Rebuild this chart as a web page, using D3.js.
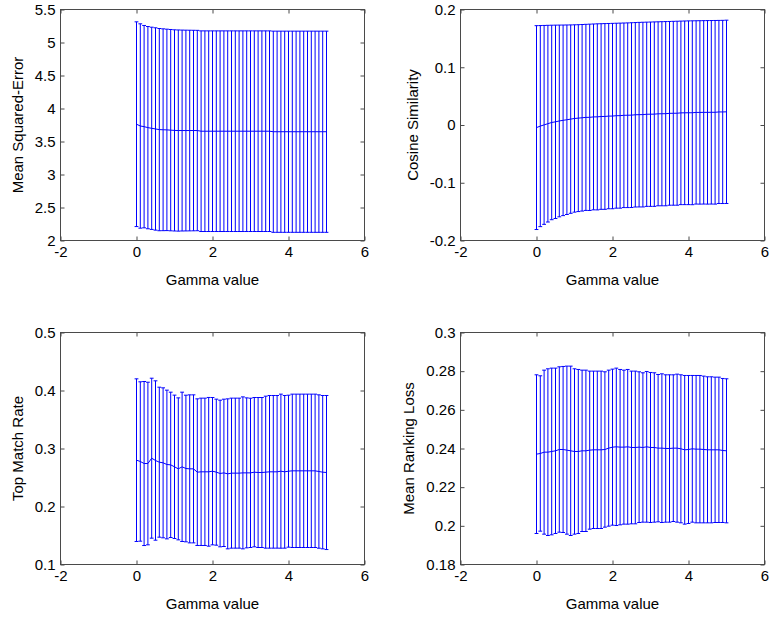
<!DOCTYPE html>
<html>
<head>
<meta charset="utf-8">
<script src="https://cdn.jsdelivr.net/npm/d3@7"></script>
<style>
  html, body { margin: 0; padding: 0; background: #fff; }
  svg { display: block; }
  text { font-family: "Liberation Sans", Arial, Helvetica, sans-serif; fill: #000; }
</style>
</head>
<body>
<svg id="chart" width="770" height="617"></svg>
<script>
// Gamma values on the x axis
const gamma = [0.0, 0.1, 0.2, 0.3, 0.4, 0.5, 0.6, 0.7, 0.8, 0.9,
  1.0, 1.1, 1.2, 1.3, 1.4, 1.5, 1.6, 1.7, 1.8, 1.9,
  2.0, 2.1, 2.2, 2.3, 2.4, 2.5, 2.6, 2.7, 2.8, 2.9,
  3.0, 3.1, 3.2, 3.3, 3.4, 3.5, 3.6, 3.7, 3.8, 3.9,
  4.0, 4.1, 4.2, 4.3, 4.4, 4.5, 4.6, 4.7, 4.8, 4.9, 5.0];

// Mean squared error: mean and half-width of the error bar
const mseMean = [3.762, 3.735, 3.725, 3.710, 3.700, 3.690, 3.680, 3.678, 3.676, 3.672,
  3.668, 3.666, 3.666, 3.666, 3.666, 3.666, 3.666, 3.656, 3.656, 3.656,
  3.656, 3.656, 3.656, 3.656, 3.656, 3.656, 3.656, 3.656, 3.656, 3.656,
  3.656, 3.656, 3.656, 3.656, 3.656, 3.656, 3.648, 3.648, 3.648, 3.648,
  3.648, 3.648, 3.648, 3.648, 3.648, 3.648, 3.648, 3.648, 3.648, 3.648, 3.648];
const mseErr = [1.551, 1.548, 1.533, 1.532, 1.532, 1.533, 1.532, 1.529, 1.526, 1.525,
  1.524, 1.524, 1.522, 1.521, 1.520, 1.519, 1.518, 1.520, 1.520, 1.520,
  1.520, 1.520, 1.520, 1.520, 1.520, 1.520, 1.520, 1.520, 1.520, 1.520,
  1.520, 1.520, 1.520, 1.520, 1.520, 1.520, 1.524, 1.524, 1.524, 1.524,
  1.524, 1.524, 1.524, 1.524, 1.524, 1.524, 1.524, 1.524, 1.524, 1.524, 1.524];

// Cosine similarity
const cosMean = [-0.0045, -0.0019, 0.0002, 0.0023, 0.0044, 0.0055, 0.0070, 0.0081, 0.0091, 0.0102,
  0.0113, 0.0119, 0.0125, 0.0132, 0.0133, 0.0140, 0.0141, 0.0147, 0.0148, 0.0154,
  0.0155, 0.0161, 0.0162, 0.0168, 0.0169, 0.0171, 0.0177, 0.0179, 0.0180, 0.0186,
  0.0187, 0.0188, 0.0194, 0.0195, 0.0196, 0.0202, 0.0203, 0.0204, 0.0210, 0.0211,
  0.0212, 0.0212, 0.0218, 0.0218, 0.0219, 0.0219, 0.0220, 0.0220, 0.0226, 0.0226, 0.0228];
const cosErr = [0.1765, 0.1741, 0.1722, 0.1703, 0.1684, 0.1674, 0.1660, 0.1650, 0.1641, 0.1631,
  0.1622, 0.1618, 0.1615, 0.1611, 0.1613, 0.1609, 0.1611, 0.1607, 0.1608, 0.1604,
  0.1605, 0.1601, 0.1602, 0.1598, 0.1599, 0.1600, 0.1597, 0.1598, 0.1599, 0.1595,
  0.1596, 0.1597, 0.1593, 0.1594, 0.1595, 0.1591, 0.1592, 0.1593, 0.1589, 0.1590,
  0.1591, 0.1592, 0.1587, 0.1588, 0.1588, 0.1589, 0.1589, 0.1590, 0.1585, 0.1586, 0.1587];

// Top match rate
const topMean = [0.2799, 0.2776, 0.2741, 0.2741, 0.2833, 0.2793, 0.2764, 0.2753, 0.2724, 0.2718,
  0.2684, 0.2649, 0.2684, 0.2655, 0.2649, 0.2649, 0.2592, 0.2598, 0.2598, 0.2598,
  0.2609, 0.2592, 0.2569, 0.2580, 0.2563, 0.2575, 0.2575, 0.2575, 0.2580, 0.2580,
  0.2580, 0.2592, 0.2586, 0.2586, 0.2592, 0.2598, 0.2598, 0.2598, 0.2609, 0.2598,
  0.2609, 0.2615, 0.2615, 0.2615, 0.2615, 0.2615, 0.2615, 0.2615, 0.2603, 0.2592, 0.2586];
const topErr = [0.1402, 0.1374, 0.1414, 0.1402, 0.1379, 0.1374, 0.1293, 0.1293, 0.1282, 0.1253,
  0.1236, 0.1224, 0.1287, 0.1264, 0.1276, 0.1276, 0.1264, 0.1270, 0.1270, 0.1282,
  0.1270, 0.1259, 0.1264, 0.1270, 0.1293, 0.1293, 0.1293, 0.1293, 0.1310, 0.1293,
  0.1287, 0.1287, 0.1293, 0.1293, 0.1310, 0.1316, 0.1316, 0.1316, 0.1328, 0.1316,
  0.1310, 0.1322, 0.1322, 0.1322, 0.1322, 0.1322, 0.1322, 0.1322, 0.1322, 0.1322, 0.1328];

// Mean ranking loss
const rankMean = [0.23708, 0.23742, 0.23811, 0.23811, 0.23846, 0.23880, 0.23949, 0.23949, 0.23915, 0.23880,
  0.23846, 0.23846, 0.23880, 0.23880, 0.23915, 0.23932, 0.23932, 0.23932, 0.23949, 0.24018,
  0.24070, 0.24087, 0.24070, 0.24070, 0.24087, 0.24053, 0.24053, 0.24070, 0.24053, 0.24087,
  0.24053, 0.24053, 0.24018, 0.24018, 0.24001, 0.24001, 0.24018, 0.24018, 0.23984, 0.23932,
  0.23949, 0.23984, 0.23966, 0.23966, 0.23949, 0.23932, 0.23932, 0.23932, 0.23932, 0.23898, 0.23880];
const rankErr = [0.04104, 0.04018, 0.04242, 0.04311, 0.04311, 0.04277, 0.04277, 0.04294, 0.04346, 0.04380,
  0.04277, 0.04242, 0.04173, 0.04173, 0.04087, 0.04070, 0.04070, 0.04070, 0.04018, 0.04035,
  0.04035, 0.04070, 0.04018, 0.03983, 0.04001, 0.03949, 0.03949, 0.03897, 0.03863, 0.03897,
  0.03880, 0.03863, 0.03811, 0.03845, 0.03811, 0.03811, 0.03794, 0.03828, 0.03828, 0.03845,
  0.03828, 0.03794, 0.03811, 0.03811, 0.03794, 0.03777, 0.03777, 0.03759, 0.03759, 0.03725, 0.03725];

// Axis ticks
const xTicks = [-2, 0, 2, 4, 6];
const mseTicks = [2, 2.5, 3, 3.5, 4, 4.5, 5, 5.5];
const cosTicks = [-0.2, -0.1, 0, 0.1, 0.2];
const topTicks = [0.1, 0.2, 0.3, 0.4, 0.5];
const rankTicks = [0.18, 0.2, 0.22, 0.24, 0.26, 0.28, 0.3];

const xLabel = "Gamma value";

const svg = d3.select("#chart");
const blue = "#0000ff";
const boxColor = "#4a4a4a";
const fontSize = 15;

function panel(opt) {
  const { left, right, top, bottom, mean, err, ticks, label } = opt;
  const g = svg.append("g");

  const x = d3.scaleLinear().domain([-2, 6]).range([left, right]);
  const y = d3.scaleLinear().domain([ticks[0], ticks[ticks.length - 1]]).range([bottom, top]);

  // error bars
  const bars = g.append("g").attr("stroke", blue).attr("stroke-width", 1).attr("fill", "none");
  const tee = 0.05;
  gamma.forEach((gv, i) => {
    const lo = mean[i] - err[i], hi = mean[i] + err[i];
    bars.append("line")
      .attr("x1", x(gv)).attr("x2", x(gv))
      .attr("y1", y(lo)).attr("y2", y(hi));
    bars.append("line")
      .attr("x1", x(gv - tee)).attr("x2", x(gv + tee))
      .attr("y1", y(hi)).attr("y2", y(hi));
    bars.append("line")
      .attr("x1", x(gv - tee)).attr("x2", x(gv + tee))
      .attr("y1", y(lo)).attr("y2", y(lo));
  });

  // mean curve
  const line = d3.line().x((d, i) => x(gamma[i])).y(d => y(d));
  g.append("path").datum(mean)
    .attr("d", line)
    .attr("fill", "none")
    .attr("stroke", blue)
    .attr("stroke-width", 1);

  // axes with inward ticks on all four sides
  const fmt = d => String(d);
  const bottomAxis = g.append("g").attr("transform", `translate(0,${bottom})`)
    .call(d3.axisBottom(x).tickValues(xTicks).tickFormat(fmt).tickSizeInner(-4).tickSizeOuter(0).tickPadding(6));
  const leftAxis = g.append("g").attr("transform", `translate(${left},0)`)
    .call(d3.axisLeft(y).tickValues(ticks).tickFormat(fmt).tickSizeInner(-4).tickSizeOuter(0).tickPadding(5));
  const topAxis = g.append("g").attr("transform", `translate(0,${top})`)
    .call(d3.axisTop(x).tickValues(xTicks).tickFormat("").tickSizeInner(-4).tickSizeOuter(0));
  const rightAxis = g.append("g").attr("transform", `translate(${right},0)`)
    .call(d3.axisRight(y).tickValues(ticks).tickFormat("").tickSizeInner(-4).tickSizeOuter(0));

  [bottomAxis, leftAxis, topAxis, rightAxis].forEach(a => {
    a.select(".domain").remove();
    a.selectAll(".tick line").attr("stroke", boxColor);
    a.selectAll(".tick text")
      .attr("font-size", fontSize)
      .attr("font-family", "'Liberation Sans', Arial, Helvetica, sans-serif")
      .attr("fill", "#000");
  });

  // axes box
  g.append("rect")
    .attr("x", left).attr("y", top)
    .attr("width", right - left).attr("height", bottom - top)
    .attr("fill", "none").attr("stroke", boxColor).attr("stroke-width", 1);

  // axis titles
  g.append("text")
    .attr("x", (left + right) / 2)
    .attr("y", bottom + 44)
    .attr("text-anchor", "middle")
    .attr("font-size", fontSize)
    .text(xLabel);

  // y label sits left of the widest tick label
  let widest = 0;
  leftAxis.selectAll(".tick text").each(function () {
    widest = Math.max(widest, this.getComputedTextLength());
  });
  const lx = left - 5 - widest - 12;
  g.append("text")
    .attr("transform", `translate(${lx},${(top + bottom) / 2}) rotate(-90)`)
    .attr("text-anchor", "middle")
    .attr("font-size", fontSize)
    .text(label);
}

const colL = [60.5, 364.5], colR = [460.5, 764.5];
const rowT = [9.5, 240.5], rowB = [332.5, 564.5];

panel({ left: colL[0], right: colL[1], top: rowT[0], bottom: rowT[1], mean: mseMean, err: mseErr, ticks: mseTicks, label: "Mean Squared-Error" });
panel({ left: colR[0], right: colR[1], top: rowT[0], bottom: rowT[1], mean: cosMean, err: cosErr, ticks: cosTicks, label: "Cosine Similarity" });
panel({ left: colL[0], right: colL[1], top: rowB[0], bottom: rowB[1], mean: topMean, err: topErr, ticks: topTicks, label: "Top Match Rate" });
panel({ left: colR[0], right: colR[1], top: rowB[0], bottom: rowB[1], mean: rankMean, err: rankErr, ticks: rankTicks, label: "Mean Ranking Loss" });
</script>
</body>
</html>
